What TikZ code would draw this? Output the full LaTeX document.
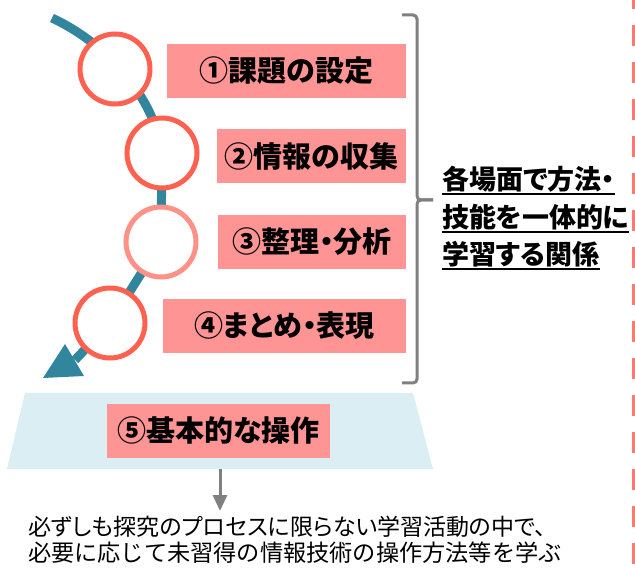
\documentclass[tikz,border=0pt]{standalone}
\usepackage{fontspec}
\newfontfamily\jp[RawFeature=+palt]{Noto Sans CJK JP}
\newfontfamily\jpw{Noto Sans CJK JP}
\usetikzlibrary{arrows.meta,backgrounds}
\definecolor{tealc}{RGB}{49,133,156}
\definecolor{circred}{RGB}{255,97,80}
\definecolor{circlight}{RGB}{255,145,135}
\definecolor{pinkfill}{RGB}{255,148,148}
\definecolor{trapfill}{RGB}{218,238,243}
\definecolor{graybr}{RGB}{128,128,128}
\definecolor{dashred}{RGB}{255,120,110}
\begin{document}
\begin{tikzpicture}[x=1pt,y=-1pt,
  stage/.style={circle, draw=circred, line width=5pt, fill=white, minimum size=70pt, inner sep=0pt},
  pinkbox/.style={fill=pinkfill, inner sep=0pt, minimum height=54pt, font=\jp\bfseries\fontsize{29}{32}\selectfont},
  sidetext/.style={anchor=base west, inner sep=0pt, font=\jp\bfseries\fontsize{27}{30}\selectfont},
  bottomtext/.style={anchor=base west, inner sep=0pt}
]
\useasboundingbox (0,0) rectangle (635,569);

% red dashed border line
\draw[dashred, line width=3pt, dash pattern=on 21pt off 16pt, dash phase=12pt] (633.5,0) -- (633.5,569);

% trapezoid base
\fill[trapfill] (25,393) -- (413,393) -- (433,469) -- (7,469) -- cycle;
\coordinate (trapbot) at (220,469);

% circles
\node[stage] (c1) at (115,69) {};
\node[stage] (c2) at (162,153) {};
\node[stage, draw=circlight] (c3) at (161,242) {};
\node[stage] (c4) at (110,323) {};

% teal flow arrow behind the circles
\begin{scope}[on background layer]
\coordinate (tstart) at (52,18);
\coordinate (tend) at (75,360);
\coordinate (ttip) at (43,378);
\draw[tealc, line width=9pt, line join=round] (tstart) .. controls (110,45) and (155,100) .. (c2.center) -- (c3.center) -- (c4.center) -- (tend);
\fill[tealc] (ttip) -- (65,344) -- (84,376) -- cycle;
\end{scope}

% pink boxes
\node[pinkbox, minimum width=239pt] (b1) at (286.5,71) {①課題の設定};
\node[pinkbox, minimum width=189pt] (b2) at (311.5,156) {②情報の収集};
\node[pinkbox, minimum width=188pt] (b3) at (312,242) {③整理・分析};
\node[pinkbox, minimum width=243pt] (b4) at (284.5,326) {④まとめ・表現};
\node[pinkbox, minimum width=223pt] (b5) at (218.5,431) {⑤基本的な操作};

% bracket
\draw[graybr, line width=3pt, rounded corners=4pt] (402,15) -- (417,15) -- (417,200) -- (433,200);
\draw[graybr, line width=3pt, rounded corners=4pt] (433,200) -- (417,200) -- (417,383) -- (402,383);

% side text, underlined
\node[sidetext] (r1) at (442,190) {各場面で方法・};
\node[sidetext] (r2) at (442,228) {技能を一体的に};
\node[sidetext] (r3) at (442,265) {学習する関係};
\foreach \n in {r1,r2,r3}{
  \draw[black, line width=1.5pt] ([yshift=-4pt]\n.base west) -- ([yshift=-4pt]\n.base east);
}

% gray arrow
\coordinate (arrend) at (220,511);
\draw[graybr, line width=3pt, -{Triangle[width=14pt,length=16pt]}] (trapbot) -- (arrend);

% bottom text
\node[bottomtext, font=\jp\fontsize{23}{26}\selectfont] (t1) at (28,535) {必ずしも探究のプロセスに限らない学習活動の中で、};
\node[bottomtext, font=\jpw\fontsize{23.2}{26}\selectfont] (t2) at (28,561) {必要に応じて未習得の情報技術の操作方法等を学ぶ};
\end{tikzpicture}
\end{document}
